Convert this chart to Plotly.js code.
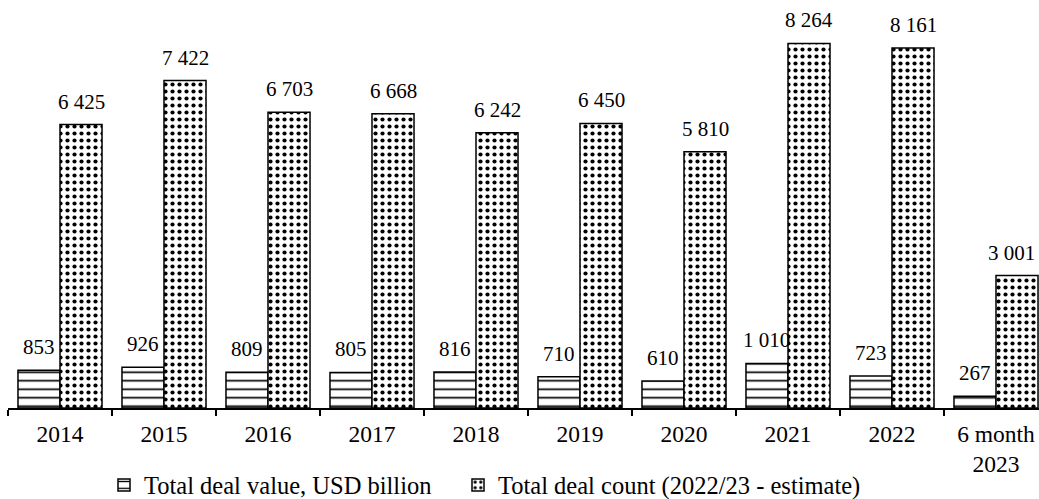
<!DOCTYPE html>
<html>
<head>
<meta charset="utf-8">
<script src="https://cdn.plot.ly/plotly-3.0.1.min.js"></script>
<style>
html,body{margin:0;padding:0;background:#fff;overflow:hidden;}
#chart{width:1039px;height:499px;}
</style>
</head>
<body>
<div id="chart"></div>
<script>
const categories = ["2014","2015","2016","2017","2018","2019","2020","2021","2022","6 month<br>2023"];
const dealValue = [853, 926, 809, 805, 816, 710, 610, 1010, 723, 267];
const dealCount = [6425, 7422, 6703, 6668, 6242, 6450, 5810, 8264, 8161, 3001];
const seriesNames = ["Total deal value, USD billion", "Total deal count (2022/23 - estimate)"];

const FONT = "Liberation Serif, Times New Roman, serif";
const TFS = 23.5;   // tick labels
const GFS = 24.5;   // legend
const LFS = 21;     // data labels

function fmt(v){
  return String(v).replace(/\B(?=(\d{3})+(?!\d))/g, " ");
}

const traces = [
  {
    type: "bar", name: seriesNames[0], x: categories, y: dealValue, legend: "legend",
    marker: {color: "#ffffff", line: {color: "#000", width: 1.5},
      pattern: {shape: "-", fgcolor: "#000", bgcolor: "#fff", size: 8.5, solidity: 0.2}},
    hoverinfo: "skip"
  },
  {
    type: "bar", name: seriesNames[1], x: categories, y: dealCount, legend: "legend2",
    marker: {color: "#ffffff", line: {color: "#000", width: 1.5},
      pattern: {shape: ".", fgcolor: "#000", bgcolor: "#fff", size: 7, solidity: 0.28}},
    hoverinfo: "skip"
  }
];

const plotW = 1039 - 8;
const catPx = 104;
const bargap = 0.192;
const barPx = catPx * (1 - bargap) / 2;
const lastIdx = categories.length - 1;

const annotations = [];
categories.forEach((c, i) => {
  annotations.push({x: i, y: dealValue[i], xref: "x", yref: "y", text: fmt(dealValue[i]),
    showarrow: false, yanchor: "bottom", xshift: -barPx/2, yshift: 9,
    font: {family: FONT, size: LFS, color: "#000"}});
  const atEdge = i === lastIdx;
  annotations.push({x: i, y: dealCount[i], xref: "x", yref: "y", text: fmt(dealCount[i]),
    showarrow: false, yanchor: "bottom",
    xanchor: atEdge ? "right" : "center",
    xshift: atEdge ? barPx - 1 : barPx/2, yshift: 9,
    font: {family: FONT, size: LFS, color: "#000"}});
});

const legendBase = {orientation: "h", xref: "container", yref: "container",
  xanchor: "left", y: 14/499, yanchor: "middle",
  font: {family: FONT, size: GFS, color: "#000"}, itemwidth: 30,
  borderwidth: 0, bgcolor: "rgba(0,0,0,0)"};

const layout = {
  width: 1039, height: 499,
  margin: {l: 8, r: 0, t: 11, b: 91, pad: 0},
  paper_bgcolor: "#fff", plot_bgcolor: "#fff",
  barmode: "group", bargap: bargap, bargroupgap: 0,
  font: {family: FONT, size: TFS, color: "#000"},
  showlegend: true,
  legend: Object.assign({}, legendBase, {x: 104/1039}),
  legend2: Object.assign({}, legendBase, {x: 458/1039}),
  xaxis: {
    type: "category", range: [-0.5, -0.5 + plotW / catPx],
    showline: true, linecolor: "#000", linewidth: 1.5,
    ticks: "outside", tickson: "boundaries", ticklen: 6, tickwidth: 1.5, tickcolor: "#000",
    ticklabelstandoff: 4,
    showgrid: false, zeroline: false, fixedrange: true,
    tickfont: {family: FONT, size: TFS, color: "#000"}
  },
  yaxis: {range: [0, 9000], visible: false, showgrid: false, zeroline: false, fixedrange: true},
  annotations: annotations
};

Plotly.newPlot("chart", traces, layout, {staticPlot: true, displayModeBar: false});
</script>
</body>
</html>
